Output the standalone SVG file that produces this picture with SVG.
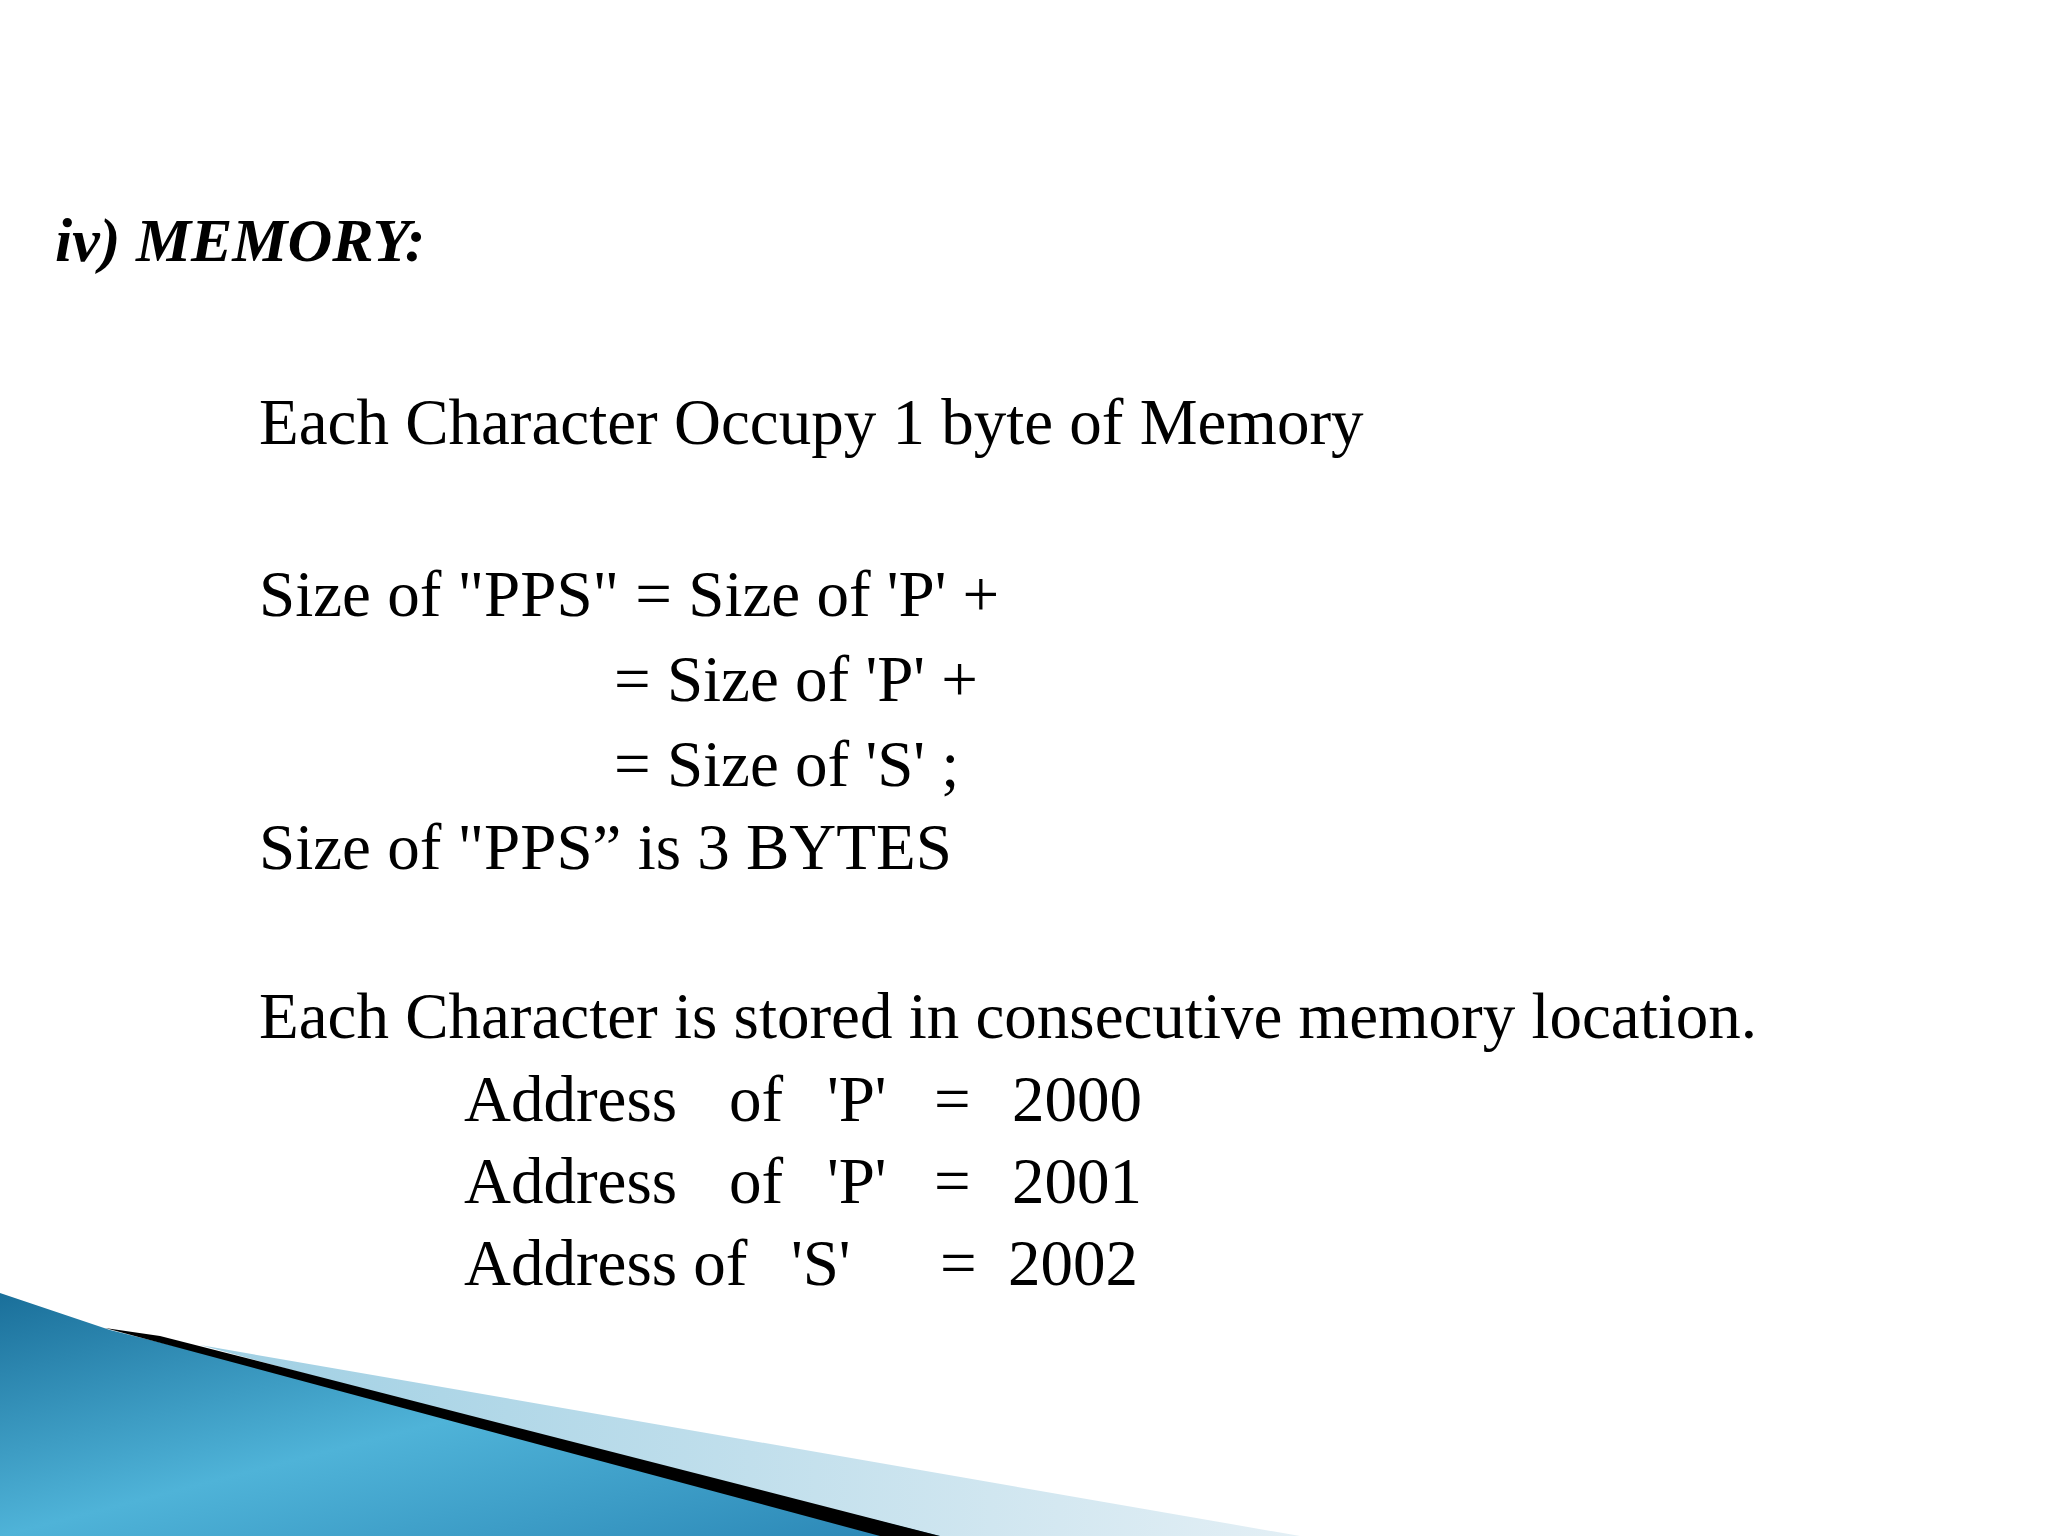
<svg xmlns="http://www.w3.org/2000/svg" width="2048" height="1536" viewBox="0 0 2048 1536">
<defs>
<linearGradient id="blue" x1="0" y1="0" x2="1" y2="1">
<stop offset="0" stop-color="#1a6f9a"/><stop offset="0.5" stop-color="#4fb3d8"/><stop offset="1" stop-color="#2a86b5"/>
</linearGradient>
<linearGradient id="pale" x1="0" y1="0" x2="1" y2="0">
<stop offset="0" stop-color="#9fcfe3"/><stop offset="1" stop-color="#e3eff5"/>
</linearGradient>
</defs>
<style>
.t{font-family:"Liberation Serif",serif;font-size:65px;fill:#000}
.h{font-family:"Liberation Serif",serif;font-size:62px;font-weight:bold;font-style:italic;fill:#000}
</style>
<rect width="2048" height="1536" fill="#fff"/>
<g id="decoration">
<polygon points="200,1345 1300,1536 900,1536" fill="url(#pale)"/>
<polygon points="0,1293 110,1330 940,1536 0,1536" fill="url(#blue)"/>
<polygon points="105,1328 160,1336 940,1536 880,1536" fill="#000"/>
</g>
<text class="h" x="55" y="261">iv) MEMORY:</text>
<text class="t" x="259" y="444">Each Character Occupy 1 byte of Memory</text>
<text class="t" x="259" y="616">Size of "PPS" = Size of 'P' +</text>
<text class="t" x="614" y="701">= Size of 'P' +</text>
<text class="t" x="614" y="786">= Size of 'S' ;</text>
<text class="t" x="259" y="869">Size of "PPS” is 3 BYTES</text>
<text class="t" x="259" y="1038">Each Character is stored in consecutive memory location.</text>
<text class="t" y="1121"><tspan x="464">Address</tspan><tspan x="729">of</tspan><tspan x="827">'P'</tspan><tspan x="934">=</tspan><tspan x="1012">2000</tspan></text>
<text class="t" y="1203"><tspan x="464">Address</tspan><tspan x="729">of</tspan><tspan x="827">'P'</tspan><tspan x="934">=</tspan><tspan x="1012">2001</tspan></text>
<text class="t" y="1285"><tspan x="464">Address of</tspan><tspan x="791">'S'</tspan><tspan x="940">=</tspan><tspan x="1008">2002</tspan></text>
</svg>
